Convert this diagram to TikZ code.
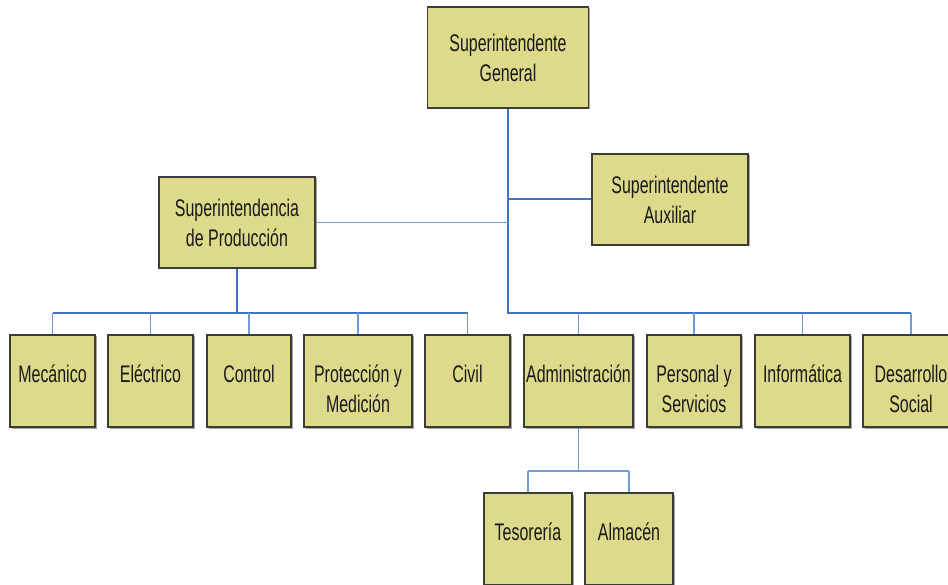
\documentclass[tikz,border=0pt]{standalone}
\usepackage{fontspec}
\setmainfont[FakeStretch=0.665]{Liberation Sans}
\usetikzlibrary{shadows}
\definecolor{boxfill}{RGB}{221,218,140}
\definecolor{boxedge}{RGB}{60,60,55}
\definecolor{linkblue}{RGB}{68,114,196}
\definecolor{linklight}{RGB}{112,156,216}

\begin{document}
\begin{tikzpicture}[x=1pt, y=-1pt,
    box/.style={draw=boxedge, fill=boxfill, line width=1.8pt, align=center, inner sep=0pt,
        font=\fontsize{24}{30}\selectfont, text=black!90,
        drop shadow={shadow xshift=1.5pt, shadow yshift=-1.5pt, fill=black, opacity=0.35}},
    unit/.style={box, minimum height=92pt, text height=62pt, text depth=0pt},
    trunk/.style={linkblue, line width=2pt},
    branch/.style={linklight, line width=1.5pt}]
    \useasboundingbox (0,0) rectangle (948,585);

    % Head and second level
    \node[box, minimum width=161pt, minimum height=101pt] (gen) at (508,57.5) {Superintendente\\General};
    \node[box, minimum width=156pt, minimum height=91pt] (prod) at (237,222.5) {Superintendencia\\de Producción};
    \node[box, minimum width=156pt, minimum height=91pt] (aux) at (670,199.5) {Superintendente\\Auxiliar};

    % Departments
    \node[unit, minimum width=85pt] (mec) at (52.5,381) {Mecánico\\\mbox{}};
    \node[unit, minimum width=85pt] (ele) at (150.5,381) {Eléctrico\\\mbox{}};
    \node[unit, minimum width=84pt] (con) at (249,381) {Control\\\mbox{}};
    \node[unit, minimum width=108pt] (pro) at (358,381) {Protección y\\Medición};
    \node[unit, minimum width=85pt] (civ) at (467.5,381) {Civil\\\mbox{}};
    \node[unit, minimum width=109pt] (adm) at (578.5,381) {Administración\\\mbox{}};
    \node[unit, minimum width=94pt] (per) at (694,381) {Personal y\\Servicios};
    \node[unit, minimum width=95pt] (inf) at (802.5,381) {Informática\\\mbox{}};
    \node[unit, minimum width=96pt] (des) at (911,381) {Desarrollo\\Social};

    % Under Administración
    \node[unit, minimum width=88pt] (tes) at (528,539) {Tesorería\\\mbox{}};
    \node[unit, minimum width=88pt] (alm) at (629,539) {Almacén\\\mbox{}};

    % Main trunk
    \coordinate (rjoin) at (508,313);
    \draw[trunk] (gen.south) -- (rjoin) -- (rjoin -| des.north);
    \draw[trunk] (aux.west -| rjoin) -- (aux.west);
    \draw[branch] (prod.east) -- (prod.east -| rjoin);

    % Production branch
    \draw[trunk] (prod.south) -- (prod.south |- rjoin);
    \draw[trunk] (mec.north |- rjoin) -- (civ.north |- rjoin);
    \foreach \n in {mec,ele,con,pro,civ}
        \draw[branch] (\n.north) -- (\n.north |- rjoin);

    % Right branch
    \foreach \n in {adm,per,inf,des}
        \draw[branch] (\n.north) -- (\n.north |- rjoin);

    % Administración branch
    \coordinate (ajoin) at (578.5,471);
    \draw[branch] (adm.south) -- (ajoin);
    \draw[branch] (tes.north |- ajoin) -- (alm.north |- ajoin);
    \foreach \n in {tes,alm}
        \draw[branch] (\n.north) -- (\n.north |- ajoin);
\end{tikzpicture}
\end{document}
